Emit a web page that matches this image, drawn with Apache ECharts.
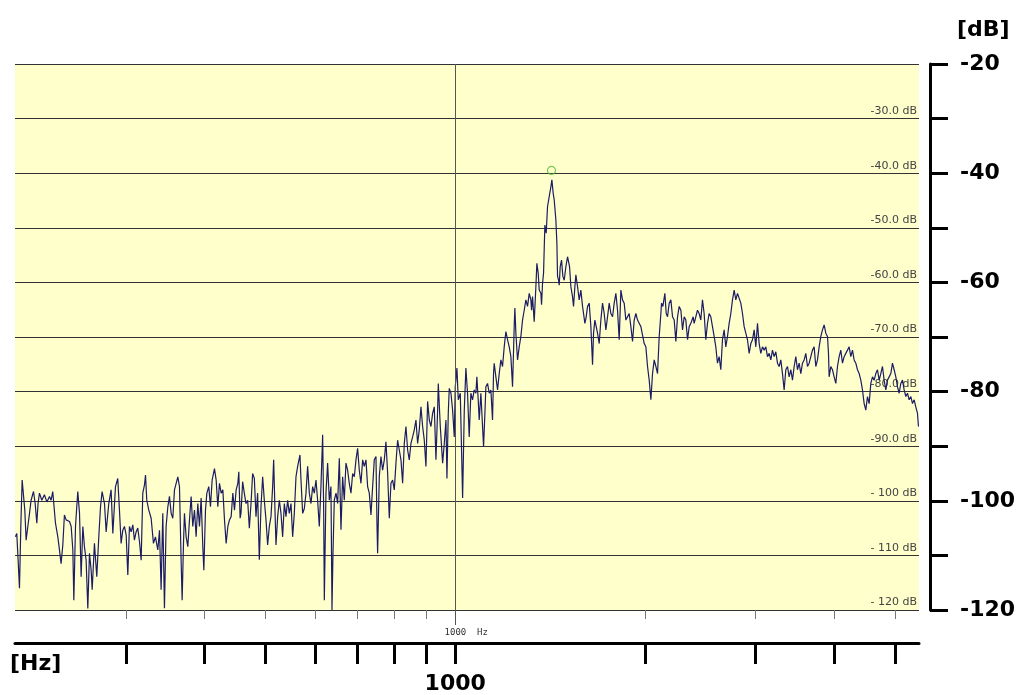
<!DOCTYPE html>
<html><head><meta charset="utf-8">
<script src="https://cdn.jsdelivr.net/npm/echarts@6/dist/echarts.min.js"></script>
<style>html,body{margin:0;padding:0;background:#fff}#c{width:1019px;height:695px}</style>
</head><body><div id="c"></div>
<script>
// Frequency (Hz) of each trace sample
const freqHz = [
200.3,201.3,202.3,203.3,204.3,205.3,206.3,207.3,208.3,209.6,
210.9,212.1,214.0,215.3,216.6,217.6,218.7,220.6,222.7,224.7,
226.9,228.2,229.6,231.9,233.9,235.3,236.7,238.2,239.6,241.1,
242.6,244.1,245.6,247.1,248.0,249.5,251.6,253.2,254.7,256.3,
257.8,259.4,261.0,262.6,264.2,265.2,267.4,269.7,271.7,273.4,
275.0,277.4,279.1,281.8,284.2,286.0,288.8,291.2,293.0,294.8,
296.6,298.4,300.3,302.1,303.9,305.8,307.7,309.5,311.4,313.3,
315.3,317.2,319.1,321.1,322.3,323.8,326.2,329.0,331.8,334.2,
337.1,339.2,341.2,343.3,345.4,347.5,349.7,351.8,354.0,356.1,
358.3,360.5,362.7,364.9,367.1,368.5,370.3,371.6,373.9,376.2,
378.5,380.8,383.1,385.5,387.8,390.2,392.6,395.0,397.4,398.9,
401.3,403.3,406.2,408.7,411.2,414.7,417.3,419.8,422.4,425.0,
427.6,430.2,432.8,435.5,438.1,440.8,443.5,446.2,448.9,451.7,
453.3,455.5,
456.9,459.7,462.5,465.4,468.2,471.1,474.0,476.8,479.8,482.7,
485.6,488.6,491.6,494.6,497.6,500.7,503.7,506.8,509.9,513.0,
514.9,517.4,519.3,522.5,525.7,528.9,532.1,535.4,538.6,541.9,
545.2,548.6,551.9,555.3,558.7,562.1,566.9,569.0,572.5,576.0,
579.5,583.0,586.6,590.2,593.8,597.4,601.1,604.7,608.4,612.1,
615.9,618.2,619.7,623.4,627.2,631.1,634.9,637.3,639.6,642.7,
646.7,650.6,654.6,658.6,662.6,666.6,670.7,674.8,678.9,683.1,
687.3,691.5,695.7,699.9,704.2,708.5,712.9,717.2,721.6,726.0,
730.4,734.9,739.4,743.9,748.5,751.2,753.0,757.6,762.3,766.9,
771.6,776.3,781.1,785.8,790.6,795.5,800.3,805.2,810.1,815.1,
820.1,825.1,830.1,835.2,840.3,845.4,850.6,855.8,861.0,866.3,
871.6,876.9,882.3,887.7,893.1,898.5,904.0,909.6,915.1,920.7,
926.3,932.0,937.7,940.0,946.9,955.0,960.8,966.7,970.2,974.9,
978.5,984.5,990.5,996.6,1000.2,1006.3,1011.2,1018.7,1027.4,1033.7,
1039.8,1046.1,1052.5,1058.9,1065.4,1071.9,1078.5,1082.4,1087.7,1091.7,
1098.4,1105.1,1109.2,1114.6,1118.6,1125.5,1132.4,1139.3,1146.2,1150.4,
1153.2,1160.3,1167.4,1174.5,1181.7,1188.9,1196.2,1203.5,1210.8,1218.3,
1225.7,1233.2,1240.7,1243.7,1248.3,1255.9,1263.6,1271.3,1279.1,1286.9,
1294.8,1302.7,1310.7,1318.7,1321.9,1326.7,1334.8,1343.0,1347.9,1354.5,
1359.5,1367.8,1371.1,1376.1,1381.2,1387.9,1394.7,1401.5,1410.1,1418.7,
1423.9,1430.8,1436.1,1444.9,1450.2,1453.7,1459.0,1462.6,1468.0,1475.1,
1482.3,1489.6,1498.7,1507.8,1511.5,1518.9,1526.3,1535.6,1541.2,1548.8,
1554.5,1564.0,1573.5,1583.1,1592.8,1598.7,1606.5,1614.4,1622.2,1632.1,
1642.1,1652.2,1658.2,1666.3,1674.4,1682.6,1692.9,1703.2,1713.6,1724.1,
1734.7,1745.3,1755.9,1766.7,1777.5,1788.3,1799.2,1810.2,1821.3,1832.4,
1843.6,1854.9,1866.2,1877.6,1889.1,1900.7,1912.3,1924.0,1935.7,1947.6,
1959.4,1971.4,1983.5,1995.6,2007.8,2020.1,2032.4,2044.8,2057.3,2069.9,
2082.6,2095.3,2108.1,2121.0,2126.2,2136.6,2152.2,2162.8,2173.3,2186.6,
2199.9,2213.4,2226.9,2240.5,2254.2,2268.0,2281.9,2295.8,2309.8,2323.9,
2338.2,2352.4,2366.8,
2386.6,2395.4,2410.0,2424.8,2439.6,2454.5,2469.5,2484.6,2499.8,2515.1,
2530.4,2545.9,2561.4,2577.1,2592.8,2608.7,2624.6,2640.7,2656.8,2673.1,
2689.4,2705.9,2722.4,2739.1,2755.8,2772.7,2789.6,2806.7,2823.8,2841.1,
2858.4,2875.9,2893.4,2911.1,2928.9,2946.8,2964.8,2983.0,3001.2,3019.6,
3038.0,3056.6,3075.2,3094.0,3112.9,3132.0,3151.1,3170.4,3189.7,3209.2,
3228.8,3248.6,3268.4,3288.4,3308.5,3328.7,3349.1,3369.5,3390.1,3410.9,
3431.7,3452.7,3473.8,3495.0,3516.4,3537.9,3559.5,3581.3,3603.1,3625.2,
3647.3,3669.6,3692.0,3714.6,3737.3,3760.1,3783.1,3806.2,3829.5,3852.9,
3876.5,3900.2,3914.5,3924.0,3948.0,3972.1,3996.4,4020.8,4045.4,4070.1,
4095.0,4120.0,4145.2,4170.5,4196.0,4221.7,4247.5,4273.4,4299.5,4325.8,
4352.3,4378.9,4405.7,4432.6,4459.7,4486.9,4514.4,4541.9,4569.7,4597.6,
4625.7,4654.0,4682.4,4711.1,4739.9,4768.8,4798.0,4827.3,4856.8,4886.5,
4916.4,4946.4,4976.7,5007.1,5037.7,5068.5,5099.5,5130.6,5162.0,5193.5,
5225.3,5257.2,5289.4,5321.7,5354.2,5386.9,5419.9,5439.7
];
// Level (dB) of each trace sample
const levelDb = [
-106.6,-106.0,-110.9,-116.0,-104.7,-96.2,-96.2,-101.7,-107.2,-104.7,
-102.3,-99.9,-98.3,-100.5,-104.1,-100.5,-98.6,-99.9,-98.9,-100.2,
-99.2,-99.9,-98.3,-104.1,-106.6,-109.0,-111.5,-108.1,-102.6,-103.5,
-103.2,-103.8,-104.7,-109.0,-118.2,-104.7,-98.3,-102.3,-113.9,-104.7,
-108.4,-110.9,-119.7,-109.6,-112.7,-116.3,-107.8,-113.9,-106.6,-101.1,
-98.3,-100.5,-105.7,-100.5,-98.0,-106.0,-97.4,-95.9,-101.7,-107.8,
-105.4,-104.7,-106.3,-113.6,-104.7,-105.7,-104.4,-107.2,-105.7,-105.0,
-107.5,-110.9,-98.6,-97.1,-95.3,-99.9,-101.7,-103.2,-107.8,-106.6,
-109.0,-105.4,-116.3,-102.3,-119.7,-104.7,-101.1,-99.2,-102.3,-103.2,
-98.0,-96.8,-95.6,-97.4,-110.9,-118.2,-107.8,-102.3,-106.6,-108.4,
-103.5,-99.2,-104.7,-101.7,-106.6,-100.5,-104.7,-99.5,-108.4,-112.7,
-101.7,-98.6,-97.4,-101.1,-96.2,-94.1,-96.2,-101.1,-96.8,-98.6,
-98.0,-103.5,-107.8,-104.7,-103.5,-102.9,-98.6,-101.7,-98.0,-96.8,
-94.7,-103.2,
-102.3,-96.5,-98.6,-100.5,-99.9,-105.0,-100.5,-95.0,-95.9,-102.9,
-98.6,-110.8,-101.1,-95.6,-99.9,-103.5,-108.1,-104.7,-102.9,-97.4,
-92.5,-101.7,-108.1,-102.9,-99.9,-102.3,-106.6,-100.5,-102.9,-99.9,
-102.3,-100.5,-106.6,-102.3,-95.6,-93.7,-91.6,-96.2,-102.3,-101.4,
-98.6,-93.7,-98.6,-100.5,-97.4,-98.6,-96.2,-99.9,-104.7,-97.4,
-87.9,-101.7,-118.2,-98.6,-93.1,-99.9,-97.4,-120.0,-109.6,-99.9,
-98.6,-100.5,-92.2,-105.3,-95.6,-99.9,-93.1,-94.4,-96.8,-98.6,
-95.0,-95.6,-92.5,-90.4,-94.4,-96.8,-92.5,-93.7,-92.5,-97.4,
-98.6,-102.6,-97.4,-92.5,-91.9,-104.1,-109.6,-95.6,-91.9,-94.4,
-92.5,-89.2,-95.0,-103.2,-96.8,-96.2,-98.0,-93.1,-88.9,-90.7,
-92.5,-96.8,-89.5,-86.4,-90.7,-92.5,-89.5,-88.3,-87.0,-85.2,
-89.5,-87.0,-82.8,-86.4,-88.9,-93.7,-81.8,-85.2,-86.4,-84.0,
-82.8,-92.5,-83.4,-78.5,-86.4,-93.1,-89.5,-85.2,-95.9,-84.0,
-79.4,-80.3,-83.4,-88.3,-79.1,-75.7,-81.5,-80.3,-99.5,-83.4,
-75.7,-80.3,-88.3,-80.3,-81.5,-79.7,-80.3,-77.3,-81.5,-85.2,
-80.3,-86.4,-90.1,-84.0,-79.1,-78.5,-80.3,-79.7,-85.2,-76.7,
-74.8,-77.3,-79.7,-76.7,-74.2,-75.4,-71.8,-69.0,-70.5,-71.8,
-73.6,-79.1,-68.1,-64.7,-69.3,-74.2,-71.8,-69.9,-66.9,-65.1,
-63.2,-64.4,-62.0,-63.2,-65.1,-62.6,-67.2,-60.8,-56.5,-58.3,
-61.4,-62.0,-64.1,-60.2,-58.3,-49.5,-51.0,-46.1,-44.3,-42.5,
-41.2,-43.7,-44.9,-48.6,-52.8,-58.9,-59.6,-60.5,-57.1,-55.9,
-58.9,-59.6,-57.1,-55.3,-55.0,-57.1,-60.8,-62.6,-64.4,-60.8,
-58.6,-60.8,-63.2,-61.4,-64.4,-65.7,-67.5,-66.3,-64.4,-63.8,
-68.1,-75.1,-69.3,-66.9,-68.1,-69.3,-71.2,-66.9,-63.8,-65.7,
-68.7,-66.3,-63.8,-65.7,-66.3,-63.8,-62.0,-65.1,-70.5,-61.4,
-63.2,-63.8,-66.9,-66.3,-65.7,-68.1,-70.8,-66.9,-65.7,-66.9,
-67.5,-68.1,-68.1,-71.2,-71.8,-75.4,-77.9,-81.5,-76.7,-74.2,
-75.4,-76.7,-69.9,-65.7,-63.8,-64.4,-62.0,-65.7,-66.3,-63.8,
-63.2,-66.3,-66.9,-70.8,-66.3,-64.4,-65.1,-68.7,-66.3,-66.9,
-70.5,-68.1,-67.5,
-66.3,-67.5,-66.3,-65.1,-65.7,-66.9,-63.2,-65.7,-70.5,-67.5,
-65.7,-66.3,-68.1,-69.9,-71.8,-74.8,-73.6,-76.0,-70.5,-68.7,
-71.8,-69.9,-67.5,-65.7,-63.2,-61.4,-63.2,-62.0,-61.7,-63.8,
-65.7,-68.1,-69.3,-70.5,-73.0,-71.2,-70.5,-68.7,-71.8,-67.5,
-71.2,-73.0,-71.8,-72.4,-71.8,-73.6,-73.0,-74.2,-72.4,-73.6,
-72.7,-74.8,-75.4,-74.2,-76.7,-79.7,-76.0,-75.4,-77.3,-76.0,
-77.9,-75.4,-73.6,-76.0,-74.8,-76.7,-74.8,-74.2,-73.0,-75.4,
-74.8,-73.6,-72.4,-71.8,-75.4,-74.2,-71.8,-69.9,-68.7,-67.8,
-69.3,-69.9,-73.0,-77.3,-75.4,-76.0,-77.3,-78.5,-75.4,-73.6,
-72.4,-74.8,-73.6,-73.0,-72.4,-71.8,-73.6,-72.4,-74.2,-74.8,
-76.0,-76.7,-77.9,-79.7,-82.2,-83.4,-80.9,-82.2,-78.5,-77.3,
-77.9,-76.7,-76.0,-77.9,-76.7,-75.4,-77.9,-79.7,-77.9,-77.3,
-76.7,-74.8,-76.0,-77.3,-79.1,-80.3,-78.5,-77.9,-79.7,-80.9,
-80.3,-81.5,-80.9,-82.2,-81.5,-82.8,-84.0,-86.4
];
// Peak marker (Hz, dB)
const peakMarker = [1421.8, -39.5];
// Axis definitions
const freqRange = [200, 5450];
const dbRange = [-120, -20];
const dbStep = 10;
const minorTickHz = [300, 400, 500, 600, 700, 800, 900, 2000, 3000, 4000, 5000];
const majorTickHz = [300, 400, 500, 600, 700, 800, 900, 1000, 2000, 3000, 4000, 5000];
const labelledHz = [1000];
const refLineHz = 1000;
const xUnit = '[Hz]';
const yUnit = '[dB]';

const FONT = 'DejaVu Sans';
const chart = echarts.init(document.getElementById('c'), null, {renderer: 'canvas'});
const logBase = {type: 'log', logBase: 10, min: freqRange[0], max: freqRange[1], gridIndex: 0,
  position: 'bottom', splitLine: {show: false}, axisPointer: {show: false}};
const innerDb = v => v === dbRange[1] ? '' :
  (v > -100 ? v.toFixed(1) + ' dB' : '- ' + Math.abs(v) + ' dB');

chart.setOption({
  animation: false,
  backgroundColor: '#ffffff',
  grid: {left: 15, right: 100, top: 64, bottom: 85, show: true, backgroundColor: '#FFFFCC', borderWidth: 0},
  xAxis: [
    Object.assign({}, logBase, {
      axisLine: {show: false},
      axisTick: {show: true, customValues: minorTickHz, length: 9, lineStyle: {color: '#777', width: 1}},
      axisLabel: {show: false}
    }),
    Object.assign({}, logBase, {
      axisLine: {show: false},
      axisTick: {show: true, customValues: [refLineHz], length: 15, lineStyle: {color: '#555', width: 1}},
      axisLabel: {show: true, customValues: [refLineHz], formatter: v => Math.round(v) + '  Hz',
        fontFamily: 'DejaVu Sans Mono', fontSize: 9, color: '#333', margin: 18, padding: [0, 0, 0, 22]}
    }),
    Object.assign({}, logBase, {
      offset: 33,
      axisLine: {show: true, lineStyle: {color: '#000', width: 3}},
      axisTick: {show: true, customValues: majorTickHz, length: 21, lineStyle: {color: '#000', width: 3}},
      axisLabel: {show: true, customValues: labelledHz, formatter: v => String(Math.round(v)),
        fontFamily: FONT, fontWeight: 'bold', fontSize: 22, color: '#000', margin: 30}
    })
  ],
  yAxis: [
    {type: 'value', min: dbRange[0], max: dbRange[1], interval: dbStep, position: 'right', gridIndex: 0,
      axisLine: {show: false}, axisTick: {show: false},
      splitLine: {show: true, lineStyle: {color: '#333', width: 1}},
      axisLabel: {inside: true, verticalAlign: 'bottom', margin: 2, padding: [0, 0, 2, 0],
        fontFamily: FONT, fontSize: 11, color: '#444', formatter: innerDb}},
    {type: 'value', min: dbRange[0], max: dbRange[1], interval: dbStep, position: 'right', offset: 11, gridIndex: 0,
      axisLine: {show: true, lineStyle: {color: '#000', width: 3}},
      axisTick: {show: true, length: 18, lineStyle: {color: '#000', width: 3}},
      splitLine: {show: false},
      axisLabel: {margin: 30, fontFamily: FONT, fontWeight: 'bold', fontSize: 22, color: '#000',
        formatter: v => v % 20 === 0 ? String(v) : ''}}
  ],
  graphic: [
    {type: 'text', left: 957, top: 19, style: {text: yUnit, font: 'bold 22px "DejaVu Sans"', fill: '#000'}},
    {type: 'text', left: 10, top: 653, style: {text: xUnit, font: 'bold 22px "DejaVu Sans"', fill: '#000'}}
  ],
  series: [
    {type: 'scatter', xAxisIndex: 0, yAxisIndex: 0, z: 1, data: [], silent: true,
      markLine: {silent: true, symbol: ['none', 'none'], label: {show: false},
        lineStyle: {color: '#555', width: 1, type: 'solid'}, data: [{xAxis: refLineHz}]}},
    {type: 'line', xAxisIndex: 0, yAxisIndex: 0, z: 3, data: freqHz.map((f, i) => [f, levelDb[i]]),
      showSymbol: false, symbol: 'none', lineStyle: {color: '#1c1c66', width: 1.2}},
    {type: 'scatter', xAxisIndex: 0, yAxisIndex: 0, z: 5, data: [peakMarker], symbol: 'circle', symbolSize: 8,
      itemStyle: {color: 'rgba(0,0,0,0)', borderColor: '#55bb33', borderWidth: 1.2}, silent: true}
  ]
});
</script>
</body></html>
